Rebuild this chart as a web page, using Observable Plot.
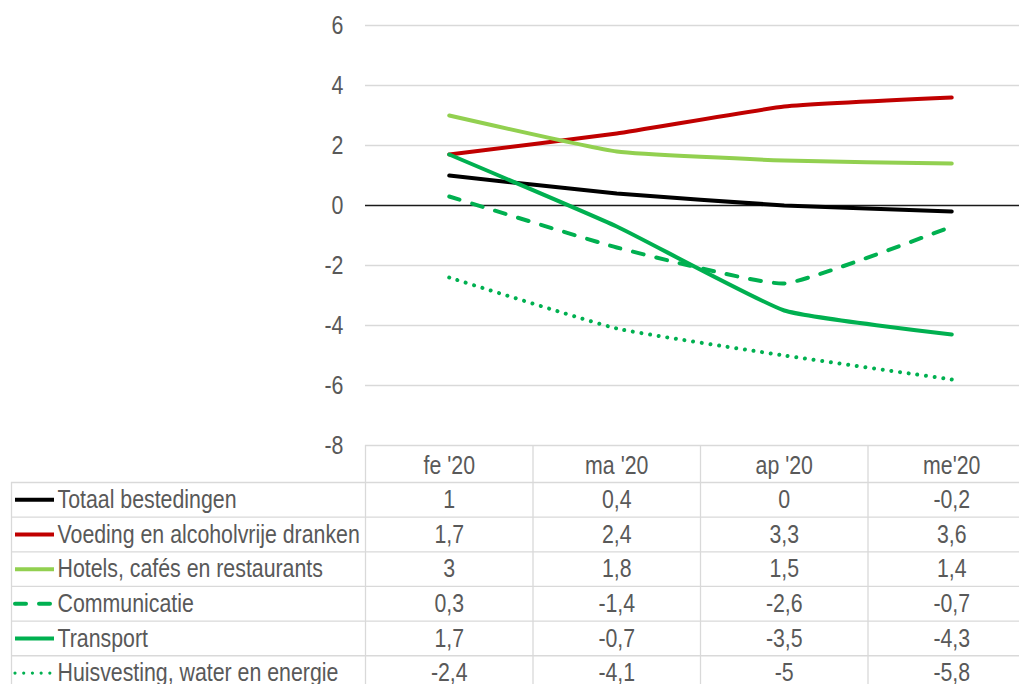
<!DOCTYPE html>
<html>
<head>
<meta charset="utf-8">
<script src="https://cdn.jsdelivr.net/npm/d3@7"></script>
<script src="https://cdn.jsdelivr.net/npm/@observablehq/plot@0.6"></script>
<style>
  html, body { margin: 0; padding: 0; background: #fff; overflow: hidden; }
  svg { display: block; }
</style>
</head>
<body>
<div id="chart"></div>
<script>
// ---- data ----
const months = ["fe '20", "ma '20", "ap '20", "me'20"];
const seriesNames = [
  "Totaal bestedingen",
  "Voeding en alcoholvrije dranken",
  "Hotels, cafés en restaurants",
  "Communicatie",
  "Transport",
  "Huisvesting, water en energie"
];
const totaal = [1, 0.4, 0, -0.2];
const voeding = [1.7, 2.4, 3.3, 3.6];
const hotels = [3, 1.8, 1.5, 1.4];
const communicatie = [0.3, -1.4, -2.6, -0.7];
const transport = [1.7, -0.7, -3.5, -4.3];
const huisvesting = [-2.4, -4.1, -5, -5.8];
const yTicks = [-8, -6, -4, -2, 0, 2, 4, 6];

// ---- styles ----
const seriesValues = [totaal, voeding, hotels, communicatie, transport, huisvesting];
const colors = ["#000000", "#c00000", "#92d050", "#00b050", "#00b050", "#00b050"];
const dashArr = [null, null, null, "11,13", null, "0.01,8.7"];
const widths = [4, 4, 4, 4, 4, 4];

const FONT = "'Liberation Sans', Arial, sans-serif";
const TEXT = "#595959";
const GRID = "#d9d9d9";
const W = 1019;
const LEFT = 365, COLW = 167.5, RIGHT = LEFT + 4 * COLW;
const xLo = -0.5, xHi = months.length - 0.5;
const px2x = p => xLo + (p - LEFT) / COLW;   // layout helper (pixel -> column units)

const rows = [];
seriesNames.forEach((s, k) => seriesValues[k].forEach((v, i) => rows.push({s, k, i, v})));

// ---- chart ----
const chartMarks = [
  Plot.ruleY(yTicks.filter(v => v !== 0), {x1: xLo, x2: xHi, stroke: GRID, strokeWidth: 1.3}),
  Plot.ruleY([0], {x1: xLo, x2: xHi, stroke: "#1a1a1a", strokeWidth: 1.6})
];
seriesNames.forEach((s, k) => {
  chartMarks.push(Plot.line(rows.filter(d => d.k === k), {
    x: "i", y: "v",
    stroke: colors[k], strokeWidth: widths[k],
    strokeDasharray: dashArr[k] || undefined,
    strokeLinecap: "round", strokeLinejoin: "round",
    curve: "cardinal", tension: 0.6
  }));
});

const chart = Plot.plot({
  width: W, height: 445,
  marginLeft: LEFT, marginRight: 0, marginTop: 25, marginBottom: 0,
  style: {fontFamily: FONT, fontSize: "26px", color: TEXT, overflow: "visible", background: "transparent"},
  x: {type: "linear", domain: [xLo, xHi], range: [LEFT, RIGHT], axis: null},
  y: {domain: [-8, 6], range: [445, 25], ticks: yTicks, tickSize: 0, tickPadding: 22, label: null, tickFormat: d => String(d)},
  marks: chartMarks
});

// ---- table ----
const fmt = v => String(v).replace(".", ",");
const labelEdge = px2x(11), swatch1 = px2x(15), swatch2 = px2x(54), labelX = px2x(57);
const cellData = rows.map(d => ({...d, row: d.k + 1.5}));

const tableMarks = [
  Plot.ruleX(d3.range(xLo, xHi + 0.01, 1), {stroke: GRID, strokeWidth: 1.3}),
  Plot.ruleX([labelEdge], {y1: 1, y2: 7, stroke: GRID, strokeWidth: 1.3}),
  Plot.ruleY(d3.range(1, 7), {x1: labelEdge, x2: xHi, stroke: GRID, strokeWidth: 1.3}),
  Plot.text(months, {x: (d, i) => i, y: 0.5, text: d => d, fill: TEXT}),
  Plot.text(cellData, {x: "i", y: "row", text: d => fmt(d.v), fill: TEXT}),
  Plot.text(seriesNames, {x: labelX, y: (d, k) => k + 1.5, text: d => d, textAnchor: "start", fill: TEXT})
];
seriesNames.forEach((s, k) => {
  tableMarks.push(Plot.ruleY([k + 1.5], {
    x1: swatch1, x2: swatch2, stroke: colors[k], strokeWidth: k === 5 ? 3.2 : widths[k],
    strokeDasharray: dashArr[k] || undefined, strokeLinecap: k === 3 || k === 5 ? "round" : "butt"
  }));
});

const table = Plot.plot({
  width: W, height: 239,
  marginLeft: 0, marginRight: 0, marginTop: 0, marginBottom: 0,
  style: {fontFamily: FONT, fontSize: "26px", color: TEXT, background: "transparent"},
  x: {type: "linear", domain: [xLo, xHi], range: [LEFT, RIGHT], axis: null},
  y: {type: "linear", domain: [0, 7], range: [2.35, 2.35 + 7 * 34.65], axis: null},
  marks: tableMarks
});

const root = document.getElementById("chart");
root.appendChild(chart);
root.appendChild(table);

// narrow the glyphs (reference uses a condensed face)
for (const svg of [chart, table]) {
  svg.querySelectorAll("text").forEach(t => {
    const L = t.getComputedTextLength();
    if (L > 0) {
      t.setAttribute("textLength", (L * 0.82).toFixed(1));
      t.setAttribute("lengthAdjust", "spacingAndGlyphs");
    }
  });
}
</script>
</body>
</html>
